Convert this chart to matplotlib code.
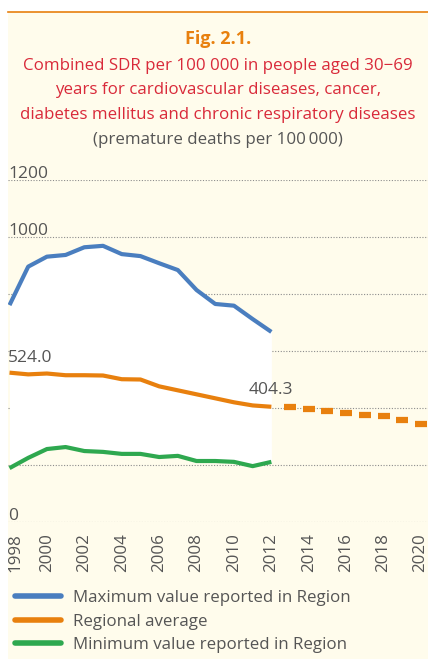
import matplotlib.pyplot as plt
import matplotlib.transforms as mtransforms
from matplotlib.patches import Rectangle
from matplotlib.lines import Line2D

plt.rcParams['font.family'] = ['Open Sans', 'DejaVu Sans']

years = list(range(1998, 2013))
max_vals = [761, 896, 931, 937, 964, 969, 940, 933, 908, 884, 814, 765, 759, 712, 667]
avg_vals = [524.0, 518, 521, 515, 515, 514, 501, 500, 476, 462, 448, 434, 420, 409, 404.3]
min_vals = [189, 225, 256, 263, 249, 246, 239, 239, 228, 232, 214, 214, 211, 196, 211]
proj_years = list(range(2013, 2021))
proj_vals = [402, 395, 388, 384, 377, 373, 359, 345]
grid_vals = [0, 200, 400, 600, 800, 1000, 1200]
grid_labels = ["0", "", "", "", "", "1000", "1200"]
xtick_years = list(range(1998, 2021, 2))

BLUE = "#4a7ebf"
ORANGE = "#e8800e"
GREEN = "#2ea84f"
CREAM = "#fffcec"
GRAY = "#555555"
RED = "#d92a3a"

W, H = 428, 659
fig = plt.figure(figsize=(W / 100, H / 100), dpi=100)
fig.patch.set_facecolor("white")

# cream panel + orange rule on top
fig.patches.append(Rectangle((8 / W, 0), 420 / W, 1 - 12 / H, transform=fig.transFigure,
                             facecolor=CREAM, edgecolor="none", zorder=-10))
fig.add_artist(Line2D([8 / W, 1], [1 - 11.5 / H] * 2, transform=fig.transFigure,
                      color=ORANGE, lw=1.2))

# title
fig.text(218 / W, 1 - 39 / H, "Fig. 2.1.", ha="center", va="center",
         color=ORANGE, fontsize=13, fontweight="bold")
title_lines = ["Combined SDR per 100 000 in people aged 30\u221269",
               "years for cardiovascular diseases, cancer,",
               "diabetes mellitus and chronic respiratory diseases"]
for i, t in enumerate(title_lines):
    fig.text(218 / W, 1 - (66 + 24.5 * i) / H, t, ha="center", va="center",
             color=RED, fontsize=12.2)
fig.text(218 / W, 1 - 139.5 / H, "(premature deaths per 100\u2009000)", ha="center",
         va="center", color=GRAY, fontsize=12.2)

# axes placed in pixel coords: 1998 -> x=9.5, 2020 -> x=421 ; 1200 -> y=180, 0 -> y=522
left, right = 8, 428
xa, xb = 9.5, 421
px_year = (xb - xa) / 22
x0 = 1998 - (xa - left) / px_year
x1 = 2020 + (right - xb) / px_year
ax = fig.add_axes([left / W, 1 - 522 / H, (right - left) / W, (522 - 180) / H])
ax.set_xlim(x0, x1)
ax.set_ylim(0, 1200)
ax.patch.set_visible(False)
for s in ax.spines.values():
    s.set_visible(False)

for v in grid_vals:
    ax.axhline(v, color="#8c8c8c", lw=0.8, ls=(0, (1, 1.5)), zorder=0.5)

ax.fill_between(years, min_vals, max_vals, color="white", lw=0, zorder=1)

ax.plot(years, max_vals, color=BLUE, lw=3, zorder=3, solid_capstyle="butt")
ax.plot(years, avg_vals, color=ORANGE, lw=3, zorder=3, solid_capstyle="butt")
ax.plot(years, min_vals, color=GREEN, lw=3, zorder=3, solid_capstyle="butt")
ax.plot(proj_years, proj_vals, ls="none", marker="_", ms=8, mew=4.5,
        color=ORANGE, zorder=3)

trans = mtransforms.blended_transform_factory(ax.transAxes, ax.transData)
for v, lab in zip(grid_vals, grid_labels):
    if lab:
        ax.text(0, v + 7, lab, transform=trans, ha="left", va="baseline",
                color=GRAY, fontsize=12.5)
ax.text(0, avg_vals[0] + 39, "%.1f" % avg_vals[0], transform=trans, ha="left",
        va="baseline", color=GRAY, fontsize=12.5)
ax.text(years[-1], avg_vals[-1] + 45, "%.1f" % avg_vals[-1], ha="center",
        va="baseline", color=GRAY, fontsize=12.5)

ax.set_yticks([])
ax.set_xticks(xtick_years)
ax.set_xticklabels([str(y) for y in xtick_years], rotation=90, color=GRAY,
                   fontsize=12.2)
ax.tick_params(axis="x", length=0, pad=8)
xlabels = ax.get_xticklabels()
xlabels[0].set_transform(xlabels[0].get_transform() +
                         mtransforms.ScaledTranslation(6 / 100, 0, fig.dpi_scale_trans))
xlabels[-1].set_transform(xlabels[-1].get_transform() +
                          mtransforms.ScaledTranslation(-1 / 100, 0, fig.dpi_scale_trans))

# legend
handles = [Line2D([], [], color=c, lw=4, solid_capstyle="round") for c in (BLUE, ORANGE, GREEN)]
labels = ["Maximum value reported in Region", "Regional average",
          "Minimum value reported in Region"]
fig.legend(handles, labels, loc="upper left", bbox_to_anchor=(15 / W, 1 - 590 / H),
           frameon=False, fontsize=12.2, labelcolor=GRAY, handlelength=2.7,
           handletextpad=0.75, labelspacing=0.45, borderaxespad=0, borderpad=0)

fig.savefig("out.png", dpi=100, facecolor=fig.get_facecolor())
